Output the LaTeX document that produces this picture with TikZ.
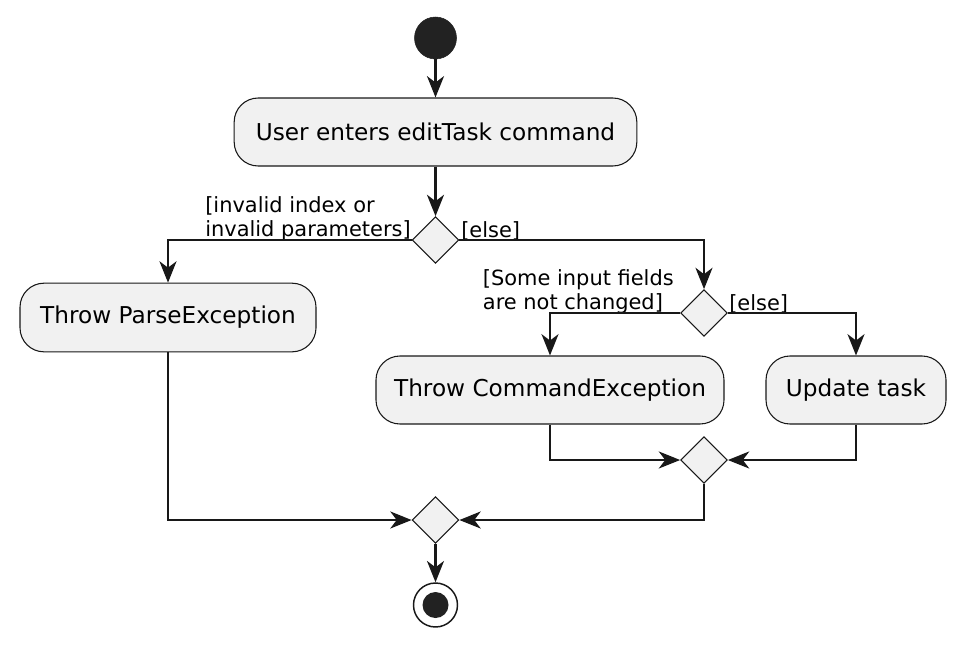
\documentclass[tikz,border=0pt]{standalone}
\usepackage{fontspec}
\setmainfont{DejaVu Sans}
\usetikzlibrary{shapes.geometric,arrows.meta}
\definecolor{boxfill}{HTML}{F1F1F1}
\definecolor{ink}{HTML}{181818}
\definecolor{dot}{HTML}{222222}
\begin{document}
\begin{tikzpicture}[x=0.75pt,y=-0.75pt,
  action/.style={draw=ink,fill=boxfill,rounded corners=18pt,line width=0.8pt,
    inner sep=0pt,font=\fontsize{17.4}{20}\selectfont},
  choice/.style={diamond,draw=ink,fill=boxfill,line width=0.8pt,inner sep=0pt,
    minimum width=35pt,minimum height=35pt},
  arr/.style={draw=ink,line width=1.7pt,-{Stealth[length=16pt,width=12.75pt,inset=4.8pt]}},
  guard/.style={inner sep=0pt,font=\fontsize{15.7}{18.2}\selectfont,text=black},
]
\useasboundingbox (0,0) rectangle (966,646);
% nodes
\node[circle,fill=dot,draw=dot,minimum size=31.5pt,inner sep=0pt] (start) at (435.5,38) {};
\node[action,minimum width=302pt,minimum height=51pt] (a1) at (435.5,132) {User enters editTask command};
\node[choice] (d1) at (435.5,240) {};
\node[action,minimum width=222pt,minimum height=51.5pt] (p) at (168,317.5) {Throw ParseException};
\node[choice] (d2) at (704,313) {};
\node[action,minimum width=261pt,minimum height=51pt] (c) at (550,390) {Throw CommandException};
\node[action,minimum width=135pt,minimum height=51pt] (u) at (856,390) {Update task};
\node[choice] (d3) at (704,460) {};
\node[choice] (d4) at (435.5,520) {};
\node[circle,draw=ink,fill=white,line width=1.1pt,minimum size=33pt,inner sep=0pt] (end) at (435.5,605) {};
\node[circle,fill=dot,minimum size=19.5pt,inner sep=0pt] (endin) at (end.center) {};
% guards
\node[guard,align=left,anchor=south east] (g1) at (411,241) {[invalid index or\\invalid parameters]};
\node[guard,anchor=south west] (g2) at (461,241) {[else]};
\node[guard,align=left,anchor=south east] (g3) at (674,314) {[Some input fields\\are not changed]};
\node[guard,anchor=south west] (g4) at (729,314) {[else]};
% connectors
\draw[arr] (start) -- (a1);
\draw[arr] (a1) -- (d1);
\draw[arr] (d1.west) -| (p.north);
\draw[arr] (d1.east) -| (d2.north);
\draw[arr] (d2.west) -| (c.north);
\draw[arr] (d2.east) -| (u.north);
\draw[arr] (c.south) |- (d3.west);
\draw[arr] (u.south) |- (d3.east);
\draw[arr] (d3.south) |- (d4.east);
\draw[arr] (p.south) |- (d4.west);
\draw[arr] (d4) -- (end);
\end{tikzpicture}
\end{document}
